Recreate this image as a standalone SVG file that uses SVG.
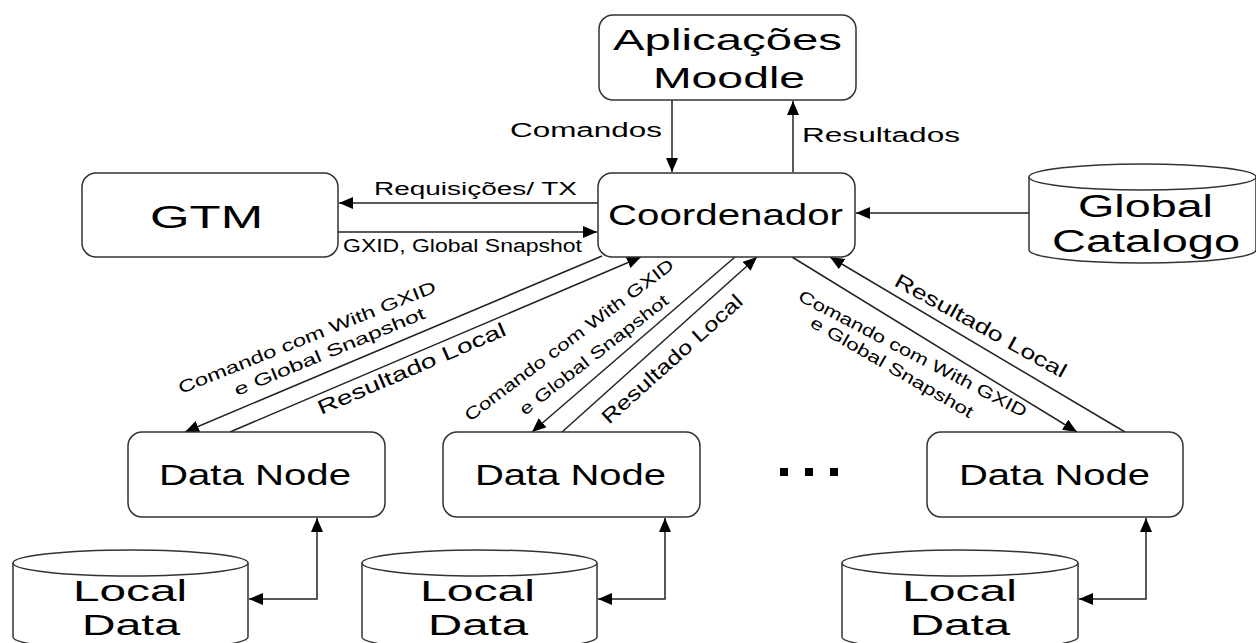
<svg xmlns="http://www.w3.org/2000/svg" width="1256" height="643" viewBox="0 0 1256 643">
<style>
.box{fill:#fff;stroke:#333;stroke-width:1.5}
.cyl{fill:#fff;stroke:#333;stroke-width:1.5}
.big{font-family:"Liberation Sans",Arial,sans-serif;fill:#000}
.lbl{font-family:"Liberation Sans",Arial,sans-serif;fill:#000}
.conn{fill:none;stroke:#222;stroke-width:1.5}
</style>
<defs>
<marker id="ah" viewBox="0 0 14 12" refX="14" refY="6" markerWidth="14" markerHeight="12" markerUnits="userSpaceOnUse" orient="auto-start-reverse">
<path d="M0,0 L14,6 L0,12 z" fill="#000"/>
</marker>
</defs>
<rect width="1256" height="643" fill="#fff"/>

<g id="connectors">
<line class="conn" x1="672" y1="100" x2="672" y2="172" marker-end="url(#ah)"/>
<line class="conn" x1="793" y1="172" x2="793" y2="101" marker-end="url(#ah)"/>
<line class="conn" x1="598" y1="203" x2="339" y2="203" marker-end="url(#ah)"/>
<line class="conn" x1="338" y1="232" x2="597" y2="232" marker-end="url(#ah)"/>
<line class="conn" x1="1029" y1="213" x2="856" y2="213" marker-end="url(#ah)"/>
<line class="conn" x1="602" y1="256" x2="185" y2="432" marker-end="url(#ah)"/>
<line class="conn" x1="230" y1="432" x2="641" y2="257" marker-end="url(#ah)"/>
<line class="conn" x1="735" y1="257" x2="532" y2="432" marker-end="url(#ah)"/>
<line class="conn" x1="562" y1="432" x2="757" y2="257" marker-end="url(#ah)"/>
<line class="conn" x1="792" y1="257" x2="1077" y2="432" marker-end="url(#ah)"/>
<line class="conn" x1="1125" y1="432" x2="830" y2="257" marker-end="url(#ah)"/>
<polyline class="conn" points="249,599 317,599 317,518" marker-start="url(#ah)" marker-end="url(#ah)"/>
<polyline class="conn" points="598,599 665,599 665,518" marker-start="url(#ah)" marker-end="url(#ah)"/>
<polyline class="conn" points="1079,599 1146,599 1146,518" marker-start="url(#ah)" marker-end="url(#ah)"/>

<text class="lbl" x="510" y="137" font-size="20" textLength="152" lengthAdjust="spacingAndGlyphs">Comandos</text>
<text class="lbl" x="802" y="142" font-size="20" textLength="158" lengthAdjust="spacingAndGlyphs">Resultados</text>
<text class="lbl" x="374" y="195" font-size="18" textLength="203" lengthAdjust="spacingAndGlyphs">Requisições/ TX</text>
<text class="lbl" x="343" y="252" font-size="18" textLength="239" lengthAdjust="spacingAndGlyphs">GXID, Global Snapshot</text>

<text class="lbl" font-size="17" textLength="276" lengthAdjust="spacingAndGlyphs" transform="translate(181,394) rotate(-21.8)">Comando com With GXID</text>
<text class="lbl" font-size="17" textLength="205" lengthAdjust="spacingAndGlyphs" transform="translate(237,396) rotate(-22.4)">e Global Snapshot</text>
<text class="lbl" font-size="20" textLength="203" lengthAdjust="spacingAndGlyphs" transform="translate(321,415) rotate(-23.3)">Resultado Local</text>

<text class="lbl" font-size="17" textLength="257" lengthAdjust="spacingAndGlyphs" transform="translate(470,422) rotate(-37)">Comando com With GXID</text>
<text class="lbl" font-size="17" textLength="184" lengthAdjust="spacingAndGlyphs" transform="translate(525,416) rotate(-38)">e Global Snapshot</text>
<text class="lbl" font-size="20" textLength="182" lengthAdjust="spacingAndGlyphs" transform="translate(609,425) rotate(-42)">Resultado Local</text>

<text class="lbl" font-size="17" textLength="255" lengthAdjust="spacingAndGlyphs" transform="translate(797,300) rotate(27.5)">Comando com With GXID</text>
<text class="lbl" font-size="17" textLength="185" lengthAdjust="spacingAndGlyphs" transform="translate(809,326) rotate(30)">e Global Snapshot</text>
<text class="lbl" font-size="20" textLength="193" lengthAdjust="spacingAndGlyphs" transform="translate(893,285) rotate(28.9)">Resultado Local</text>
</g>

<g id="aplicacoes">
<rect class="box" x="599" y="15" width="257" height="85" rx="14"/>
<text class="big" x="613" y="50" font-size="30" textLength="229" lengthAdjust="spacingAndGlyphs">Aplicações</text>
<text class="big" x="653" y="88" font-size="30" textLength="152" lengthAdjust="spacingAndGlyphs">Moodle</text>
</g>

<g id="gtm">
<rect class="box" x="82" y="173" width="256" height="84" rx="14"/>
<text class="big" x="150" y="228" font-size="32" textLength="113" lengthAdjust="spacingAndGlyphs">GTM</text>
</g>

<g id="coordenador">
<rect class="box" x="598" y="173" width="257" height="84" rx="14"/>
<text class="big" x="608" y="225" font-size="30" textLength="235" lengthAdjust="spacingAndGlyphs">Coordenador</text>
</g>

<g id="global-catalogo">
<path class="cyl" d="M1029,177 L1029,250 A113.5,13 0 0 0 1256,250 L1256,177"/>
<ellipse class="cyl" cx="1142.5" cy="177" rx="113.5" ry="13"/>
<text class="big" x="1078" y="217" font-size="31" textLength="135" lengthAdjust="spacingAndGlyphs">Global</text>
<text class="big" x="1052" y="252" font-size="31" textLength="188" lengthAdjust="spacingAndGlyphs">Catalogo</text>
</g>

<g id="datanode1">
<rect class="box" x="128" y="432" width="257" height="85" rx="14"/>
<text class="big" x="159" y="485" font-size="30" textLength="192" lengthAdjust="spacingAndGlyphs">Data Node</text>
</g>
<g id="datanode2">
<rect class="box" x="443" y="432" width="257" height="85" rx="14"/>
<text class="big" x="475" y="485" font-size="30" textLength="191" lengthAdjust="spacingAndGlyphs">Data Node</text>
</g>
<g id="datanode3">
<rect class="box" x="927" y="432" width="256" height="85" rx="14"/>
<text class="big" x="959" y="485" font-size="30" textLength="191" lengthAdjust="spacingAndGlyphs">Data Node</text>
</g>

<g id="dots" fill="#000">
<rect x="780" y="468" width="8" height="8"/>
<rect x="805" y="468" width="8" height="8"/>
<rect x="830" y="468" width="8" height="8"/>
</g>

<g id="localdata1">
<path class="cyl" d="M13,563 L13,637 A117.5,13 0 0 0 248,637 L248,563"/>
<ellipse class="cyl" cx="130.5" cy="563" rx="117.5" ry="13"/>
<text class="big" x="73" y="601" font-size="30" textLength="114" lengthAdjust="spacingAndGlyphs">Local</text>
<text class="big" x="82" y="635" font-size="30" textLength="98" lengthAdjust="spacingAndGlyphs">Data</text>
</g>
<g id="localdata2">
<path class="cyl" d="M362,563 L362,637 A117.5,13 0 0 0 597,637 L597,563"/>
<ellipse class="cyl" cx="479.5" cy="563" rx="117.5" ry="13"/>
<text class="big" x="420" y="601" font-size="30" textLength="115" lengthAdjust="spacingAndGlyphs">Local</text>
<text class="big" x="428" y="635" font-size="30" textLength="100" lengthAdjust="spacingAndGlyphs">Data</text>
</g>
<g id="localdata3">
<path class="cyl" d="M842,563 L842,637 A118,13 0 0 0 1078,637 L1078,563"/>
<ellipse class="cyl" cx="960" cy="563" rx="118" ry="13"/>
<text class="big" x="902" y="601" font-size="30" textLength="115" lengthAdjust="spacingAndGlyphs">Local</text>
<text class="big" x="910" y="635" font-size="30" textLength="100" lengthAdjust="spacingAndGlyphs">Data</text>
</g>
</svg>
